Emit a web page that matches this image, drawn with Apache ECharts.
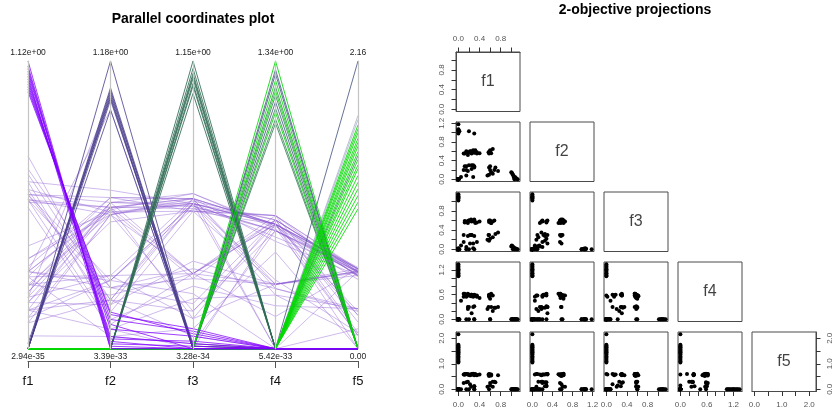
<!DOCTYPE html>
<html><head><meta charset="utf-8">
<script src="https://cdn.jsdelivr.net/npm/echarts@6.0.0/dist/echarts.min.js"></script>
<style>html,body{margin:0;padding:0;background:#fff}#c{width:833px;height:416px}</style>
</head><body><div id="c"></div>
<script>
// ---------------- data ----------------
const names = ['f1', 'f2', 'f3', 'f4', 'f5'];

// 50 intermediate points, then groups A(12) B(8) C(8) D(12) E(20)
const f1 = [
  0.20,0.25,0.15,0.30,0.18,0.35,0.28,0.12,0.22,0.40,
  0.58,0.60,0.62,0.65,0.57,0.15,0.20,0.25,0.30,0.10,
  0.28,0.18,0.60,0.62,0.58,0.70,0.65,0.75,0.55,0.60,
  0.15,0.28,0.30,0.15,0.60,0.58,0.05,0.20,0.30,0.35,
  0.22,0.25,0.30,0.68,0.10,0.32,0.24,0.58,0.18,0.12,
  1.12,1.10,1.09,1.08,1.07,1.06,1.05,1.04,1.03,1.02,1.01,1.00,
  0,0,0,0,0,0,0.02,0,
  0,0,0,0,0,0,0,0,
  0,0,0,0,0,0,0,0,0,0,0,0,
  0,0,0,0,0,0,0,0,0,0,0,0,0,0,0,0,0,0,0,0
];
const f2 = [
  0.58,0.55,0.60,0.57,0.52,0.58,0.62,0.55,0.60,0.56,
  0.58,0.62,0.56,0.65,0.58,0.28,0.30,0.22,0.25,0.20,
  0.30,0.18,0.20,0.15,0.10,0.25,0.12,0.18,0.08,0.28,
  0.08,0.05,0.58,0.20,0.60,0.55,0.05,1.03,0.98,0.55,
  0.58,0.30,0.28,0.20,0.55,0.62,0.60,0.25,0.57,0.28,
  0.00,0.01,0.02,0.03,0.05,0.00,0.04,0.08,0.10,0.12,0.14,0.15,
  1.18,1.07,1.06,1.05,1.04,1.02,1.03,0.98,
  0,0,0,0,0,0,0,0,
  0,0,0,0,0,0,0,0,0,0,0,0,
  0,0,0,0,0,0,0,0,0,0,0,0,0,0,0,0,0,0,0,0
];
const f3 = [
  0.60,0.58,0.57,0.62,0.55,0.56,0.60,0.59,0.30,0.58,
  0.57,0.60,0.55,0.58,0.30,0.58,0.60,0.30,0.28,0.15,
  0.12,0.58,0.58,0.55,0.30,0.32,0.25,0.35,0.20,0.22,
  0.00,0.02,0.60,0.05,0.58,0.60,0.08,0.00,0.00,0.15,
  0.12,0.30,0.58,0.60,0.30,0.55,0.62,0.18,0.28,0.56,
  0.00,0.00,0.01,0.00,0.02,0.00,0.03,0.05,0.00,0.07,0.08,0.06,
  0,0.01,0,0.02,0,0.01,0,0,
  1.15,1.12,1.10,1.09,1.08,1.06,1.05,1.02,
  0,0,0,0,0,0,0,0,0,0,0,0,
  0,0,0,0,0,0,0,0,0,0,0,0,0,0,0,0,0,0,0,0
];
const f4 = [
  0.58,0.60,0.55,0.57,0.62,0.55,0.58,0.60,0.58,0.52,
  0.55,0.50,0.62,0.58,0.30,0.58,0.30,0.60,0.60,0.55,
  0.30,0.25,0.58,0.30,0.58,0.28,0.20,0.30,0.25,0.00,
  0.58,0.55,0.00,0.00,0.00,0.58,0.45,0.00,0.00,0.58,
  0.60,0.15,0.32,0.28,0.62,0.58,0.56,0.60,0.30,0.62,
  0,0,0,0,0,0,0,0,0,0,0,0,
  0,0,0,0,0,0,0,0,
  0,0,0,0,0,0,0,0,
  1.34,1.30,1.28,1.25,1.22,1.20,1.18,1.15,1.12,1.10,1.07,1.05,
  0,0,0,0,0,0,0,0,0,0,0,0,0,0,0,0,0,0,0,0
];
const f5 = [
  0.57,0.58,0.60,0.55,0.59,0.56,0.61,0.57,0.55,0.58,
  0.52,0.55,0.54,0.10,0.57,0.28,0.58,0.58,0.12,0.58,
  0.60,0.30,0.25,0.58,0.60,0.28,0.30,0.55,0.10,0.15,
  0.60,0.58,0.00,0.00,0.58,0.00,0.00,0.00,0.00,0.55,
  0.20,0.60,0.12,0.30,0.25,0.60,0.10,0.58,0.58,0.60,
  0,0,0,0,0,0,0,0,0,0,0,0,
  0,0,0,0,0,0,0,0,
  0,0,0,0,0,0,0,0,
  0,0,0,0,0,0,0,0,0,0,0,0,
  2.16,1.75,1.72,1.68,1.65,1.62,1.58,1.55,1.52,1.48,1.45,1.42,1.38,1.35,1.30,1.25,1.20,1.15,1.10,1.05
];
// line colour class of each point
const group = [
  'M','M','M','M','M','M','M','M','M','M',
  'M','M','M','M','M','M','M','M','M','M',
  'M','M','M','M','M','M','M','M','M','M',
  'M','M','M','M','M','M','M','M','M','M',
  'M','M','M','M','M','M','M','M','M','M',
  'A','A','A','A','A','A','A','A','A','A','A','A',
  'B','B','B','B','B','B','B','B',
  'C','C','C','C','C','C','C','C',
  'G','S','S','G','DG','G','DG','S','DG','G','DG','DG',
  'S','L','L','G','G','G','G','G','G','G','DG','G','G','G','G','G','G','G','G','G'
];

const parMaxLabels = ['1.12e+00', '1.18e+00', '1.15e+00', '1.34e+00', '2.16'];
const parMinLabels = ['2.94e-35', '3.39e-33', '3.28e-34', '5.42e-33', '0.00'];
const tickValues = [
  [0, 0.2, 0.4, 0.6, 0.8, 1.0],
  [0, 0.2, 0.4, 0.6, 0.8, 1.0, 1.2],
  [0, 0.2, 0.4, 0.6, 0.8, 1.0],
  [0, 0.2, 0.4, 0.6, 0.8, 1.0, 1.2],
  [0, 0.5, 1.0, 1.5, 2.0]
];
const tickLabels = [
  [0, 0.4, 0.8],
  [0, 0.4, 0.8, 1.2],
  [0, 0.4, 0.8],
  [0, 0.6, 1.2],
  [0, 1.0, 2.0]
];

// ---------------- styles / layout ----------------
const FONT = 'Liberation Sans, Arial, Helvetica, sans-serif';
const groupStyle = {
  M:  { color: 'rgb(140,90,210)', opacity: 0.42 },
  A:  { color: '#8000ff', opacity: 0.75 },
  B:  { color: '#483d8b', opacity: 0.8 },
  C:  { color: '#2f6b55', opacity: 0.85 },
  DG: { color: '#2e7d50', opacity: 0.8 },
  S:  { color: '#4b5a85', opacity: 0.85 },
  L:  { color: '#8a9ab5', opacity: 0.6 },
  G:  { color: '#00d800', opacity: 0.85 }
};
const drawOrder = ['M', 'B', 'C', 'DG', 'S', 'L', 'G', 'A'];

const cols = [f1, f2, f3, f4, f5];
const idx = f1.map((_, k) => k);

const PAR = { left: 28, right: 475, top: 61, bottom: 67.3 };
const MAT = { left: 456, top: 52, stepX: 74, stepY: 70, w: 64, h: 59.5 };
const BOX = '#4a4a4a';

// ---------------- parallel coordinates ----------------
const parallelAxis = names.map((n, d) => {
  const mx = Math.max(...cols[d]);
  return {
    dim: d, parallelIndex: 0, type: 'value',
    min: 0, max: mx, interval: mx,
    name: parMaxLabels[d], nameLocation: 'end', nameGap: 3.5,
    nameTextStyle: { fontSize: 8.5, color: '#222', fontFamily: FONT },
    axisLine: { show: true, lineStyle: { color: '#c4c4c4', width: 1.2 } },
    axisTick: { show: false },
    splitLine: { show: false },
    axisLabel: {
      show: true, margin: 0, align: 'center', verticalAlign: 'top',
      padding: [3, 0, 0, 0], fontSize: 8.5, color: '#222', fontFamily: FONT,
      showMaxLabel: false,
      formatter: v => (v === 0 ? parMinLabels[d] : '')
    }
  };
});

const parSeries = drawOrder.map(g => ({
  type: 'parallel', parallelIndex: 0, silent: true, smooth: false,
  emphasis: { disabled: true },
  lineStyle: { width: 1, color: groupStyle[g].color, opacity: groupStyle[g].opacity },
  data: idx.filter(k => group[k] === g).map(k => cols.map(c => c[k]))
}));

// ---------------- scatter matrix ----------------
const ext = cols.map(c => {
  const mn = Math.min(...c), mx = Math.max(...c), r = mx - mn;
  return [mn - 0.04 * r, mx + 0.04 * r];
});

const grids = [], xAxes = [], yAxes = [], matSeries = [];
let g = 0;
for (let i = 0; i < 5; i++) {
  for (let j = 0; j <= i; j++) {
    grids.push({
      left: MAT.left + MAT.stepX * j, top: MAT.top + MAT.stepY * i,
      width: MAT.w, height: MAT.h,
      show: true, borderColor: BOX, borderWidth: 1, backgroundColor: 'transparent',
      containLabel: false, outerBoundsMode: 'none'
    });
    const showX = (i === 4) || (i === 0 && j === 0);
    const showY = (j === 0) || (i === 4 && j === 4);
    xAxes.push({
      type: 'value', gridIndex: g, min: ext[j][0], max: ext[j][1],
      position: (i === 0 && j === 0) ? 'top' : 'bottom', show: showX,
      axisLine: { show: true, onZero: false, lineStyle: { color: BOX, width: 1 } },
      splitLine: { show: false },
      axisTick: { show: true, inside: false, customValues: tickValues[j], length: 4.5, lineStyle: { color: '#333', width: 1 } },
      axisLabel: { show: true, customValues: tickLabels[j], formatter: v => v.toFixed(1),
        fontSize: 8, color: '#555', margin: 9.5, fontFamily: FONT }
    });
    yAxes.push({
      type: 'value', gridIndex: g, min: ext[i][0], max: ext[i][1],
      position: (j === 0) ? 'left' : 'right', show: showY,
      axisLine: { show: true, onZero: false, lineStyle: { color: BOX, width: 1 } },
      splitLine: { show: false },
      axisTick: { show: true, inside: false, customValues: tickValues[i], length: 4.5, lineStyle: { color: '#333', width: 1 } },
      axisLabel: { show: true, customValues: tickLabels[i], formatter: v => v.toFixed(1),
        rotate: 90, fontSize: 8, color: '#555', margin: 10, fontFamily: FONT }
    });
    if (i === j) {
      matSeries.push({
        type: 'scatter', xAxisIndex: g, yAxisIndex: g, silent: true,
        symbolSize: 1, itemStyle: { color: 'rgba(0,0,0,0)' },
        label: { show: true, position: 'inside', formatter: names[i], fontSize: 16, color: '#111', fontFamily: FONT },
        data: [[(ext[j][0] + ext[j][1]) / 2, (ext[i][0] + ext[i][1]) / 2]]
      });
    } else {
      matSeries.push({
        type: 'scatter', xAxisIndex: g, yAxisIndex: g, silent: true,
        symbol: 'circle', symbolSize: 4, itemStyle: { color: '#000', opacity: 1 },
        data: idx.map(k => [cols[j][k], cols[i][k]])
      });
    }
    g++;
  }
}

// bottom axis of the parallel plot (f1..f5)
grids.push({ left: PAR.left, right: PAR.right, top: 355, height: 6, show: false, containLabel: false, outerBoundsMode: 'none' });
xAxes.push({
  type: 'value', gridIndex: g, min: 1, max: 5, interval: 1, position: 'bottom',
  axisLine: { show: true, onZero: false, lineStyle: { color: '#555', width: 1 } },
  axisTick: { show: true, length: 7, lineStyle: { color: '#555', width: 1 } },
  splitLine: { show: false },
  axisLabel: { formatter: v => names[v - 1] || '', fontSize: 13, color: '#111', margin: 14, fontFamily: FONT }
});
yAxes.push({ type: 'value', gridIndex: g, show: false, min: 0, max: 1 });

const chart = echarts.init(document.getElementById('c'), null, { renderer: 'canvas' });
chart.setOption({
  animation: false,
  backgroundColor: '#fff',
  textStyle: { fontFamily: FONT },
  graphic: [
    { type: 'text', x: 193, y: 12, silent: true,
      style: { text: 'Parallel coordinates plot', font: 'bold 14px ' + FONT, fill: '#000', textAlign: 'center' } },
    { type: 'text', x: 635, y: 3, silent: true,
      style: { text: '2-objective projections', font: 'bold 14px ' + FONT, fill: '#000', textAlign: 'center' } }
  ],
  parallel: { left: PAR.left, right: PAR.right, top: PAR.top, bottom: PAR.bottom, layout: 'horizontal' },
  parallelAxis: parallelAxis,
  grid: grids,
  xAxis: xAxes,
  yAxis: yAxes,
  series: parSeries.concat(matSeries)
});
</script>
</body></html>
